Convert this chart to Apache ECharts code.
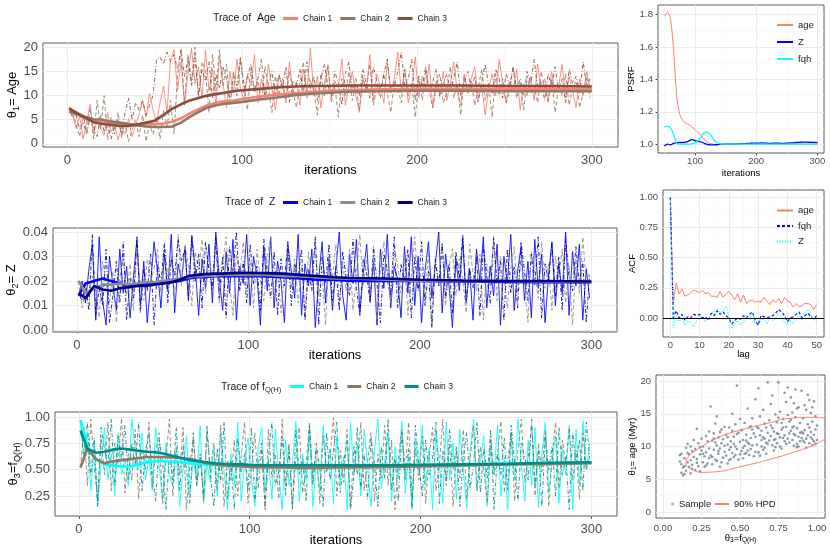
<!DOCTYPE html>
<html><head><meta charset="utf-8">
<script src="https://cdn.jsdelivr.net/npm/echarts@6/dist/echarts.min.js"></script>
<style>html,body{margin:0;padding:0;background:#fff}#c{width:830px;height:554px}</style>
</head><body><div id="c"></div>
<script>
// ---------------- DATA ----------------
const traceIters = Array.from({length:150}, (_, i) => 1 + 2*i);
const meanIters = [1,5,10,15,20,25,30,35,40,45,50,55,60,65,70,75,80,85,90,95,100,110,120,130,140,150,160,180,200,225,250,275,300];

const ageChain1 = [
7.5,6.0,3.2,5.8,1.0, 4.5,8.2,2.1,5.0,3.3, 1.8,6.5,2.5,4.0,0.8, 3.5,2.0,5.2,1.5,3.8,
6.0,9.0,5.5,10.5,7.0, 4.5,8.5,12.0,6.5,17.5, 19.5,11.0,17.0,8.5,14.5, 19.8,12.5,16.0,9.5,19.5,
11.0,15.5,8.0,18.0,12.5, 7.5,15.0,10.5,17.5,11.5, 9.0,14.5,12.0,18.5,8.5, 13.5,10.0,16.5,11.5,7.0,
14.0,12.0,9.0,17.0,10.5, 13.0,8.0,15.5,11.0,19.8, 10.0,14.0,7.5,12.5,16.0, 9.5,13.0,11.5,17.5,8.0,
12.0,15.0,10.0,6.5,13.5, 11.0,18.5,9.0,14.5,12.0, 8.5,17.0,11.0,13.5,19.0, 10.5,15.5,8.5,12.0,18.0,
9.5,14.0,11.5,16.5,7.5, 13.0,10.5,15.0,9.0,12.5, 17.0,11.0,8.0,14.5,10.5, 13.5,16.0,9.5,12.0,6.0,
11.5,14.5,10.0,17.5,12.5, 8.5,13.0,11.0,15.5,7.0, 12.5,10.0,14.0,9.0,16.5, 11.0,13.5,8.5,15.0,10.5,
12.0,16.5,9.5,14.0,11.0, 7.5,13.5,10.0,15.0,11.5];
const ageChain2 = [
6.5,7.0,4.0,1.5,6.0, 2.5,7.5,1.0,9.0,3.0, 10.0,0.8,5.5,2.0,6.5, 1.2,4.5,0.5,3.0,5.0,
1.5,6.0,0.5,4.0,2.0, 5.5,1.0,7.0,3.5,9.0, 2.0,14.0,19.5,8.0,18.5, 13.0,20.0,9.5,17.0,15.0,
6.5,18.5,11.0,19.5,12.0, 16.5,8.0,14.0,10.0,17.5, 12.5,7.0,15.5,10.5,13.0, 9.0,16.0,11.5,6.5,14.0,
10.0,13.5,8.5,15.0,11.0, 7.5,12.5,17.0,9.5,13.0, 11.0,6.0,14.5,10.0,16.5, 8.5,12.0,5.5,13.5,10.0,
15.0,9.0,12.5,7.0,14.0, 11.0,16.5,8.0,12.0,9.5, 14.5,10.5,6.5,13.0,11.5, 8.5,15.5,10.0,12.5,5.5,
13.5,9.0,15.0,11.0,7.5, 12.0,14.5,8.5,10.5,16.0, 9.5,12.5,6.0,14.0,10.5, 13.0,8.0,11.5,15.5,9.0,
12.0,5.5,14.5,10.0,13.5, 8.5,11.0,16.0,9.5,12.5, 7.0,14.0,10.5,12.0,8.5, 15.0,11.5,9.0,13.5,6.5,
12.0,10.0,14.5,8.0,11.5, 13.0,7.5,10.5,14.0,9.5];
const ageChain3 = [
7.0,5.5,6.0,3.0,4.5, 2.0,5.5,3.5,1.5,6.0, 2.5,4.0,1.0,3.5,5.0, 2.0,6.5,9.5,5.0,8.5,
7.0,9.0,6.0,8.0,10.0, 17.5,18.0,16.5,19.0,17.0, 18.5,15.5,19.5,14.0,17.5, 12.0,18.0,10.0,15.5,13.0,
17.0,9.5,14.5,11.5,16.0, 13.5,8.5,15.0,12.0,18.0, 10.5,14.0,16.5,11.0,13.5, 17.5,9.5,12.5,15.0,10.0,
14.5,11.5,16.0,8.5,13.0, 12.0,15.5,10.5,17.0,11.5, 14.0,9.0,13.5,16.5,12.0, 10.0,15.0,12.5,8.0,14.5,
17.0,11.0,13.5,10.0,15.5, 12.5,9.5,16.0,13.0,11.0, 14.5,17.5,10.5,12.0,15.0, 19.0,11.5,13.5,17.5,9.0,
14.0,12.0,16.0,10.5,13.0, 15.5,9.5,12.5,14.5,11.0, 13.5,17.0,10.0,12.5,15.0, 11.5,14.0,8.5,13.0,16.5,
12.0,10.5,15.5,13.5,9.5, 14.5,12.0,16.0,11.0,13.5, 10.0,15.0,12.5,17.5,11.5, 13.0,9.0,14.5,12.0,16.0,
11.0,13.5,8.5,15.5,12.5, 14.0,10.5,17.0,12.0,13.5];
const ageMean1 = [7.5,6.3,5.2,4.6,4.4,4.3,4.1,4.0,4.0,4.0,4.1,4.2,4.6,5.3,6.3,7.2,8.0,8.5,8.8,9.0,9.3,9.8,10.2,10.5,10.8,11.0,11.1,11.3,11.4,11.4,11.4,11.4,11.3];
const ageMean2 = [6.7,6.2,5.6,5.1,5.0,4.6,4.4,4.1,3.8,3.6,3.5,3.5,3.6,4.4,5.6,6.6,7.5,8.0,8.3,8.5,8.7,9.2,9.6,10.1,10.4,10.6,10.8,10.9,11.0,11.0,10.9,10.9,10.9];
const ageMean3 = [7.3,6.5,5.5,4.5,4.1,3.9,3.7,3.7,4.0,4.4,4.8,6.0,7.3,8.2,9.0,9.5,10.0,10.3,10.6,10.9,11.1,11.4,11.7,11.9,12.0,12.0,12.1,12.1,12.1,12.1,12.0,12.0,11.9];

const zChain1 = [
.014,.020,.011,.025,.035, .004,.038,.012,.002,.030, .018,.008,.033,.015,.026, .005,.022,.037,.010,.028,
.003,.019,.036,.024,.009, .031,.016,.039,.007,.027, .020,.034,.012,.038,.025, .006,.029,.017,.035,.011,
.040,.021,.008,.032,.015, .037,.004,.026,.019,.039, .010,.030,.022,.002,.034, .016,.038,.009,.028,.020,
.003,.035,.024,.013,.039, .006,.027,.018,.033,.001, .021,.036,.011,.029,.008, .025,.040,.014,.004,.031,
.019,.037,.007,.023,.035, .012,.028,.002,.033,.017, .039,.009,.026,.021,.005, .034,.015,.038,.010,.030,
.003,.024,.036,.013,.027, .040,.007,.031,.018,.001, .029,.016,.037,.011,.025, .004,.033,.020,.038,.009,
.026,.014,.035,.002,.030, .019,.039,.008,.024,.034, .012,.028,.005,.037,.017, .031,.003,.022,.036,.010,
.027,.015,.040,.006,.032, .018,.035,.004,.025,.013];
const zChain2 = [
.020,.009,.017,.013,.022, .016,.005,.028,.019,.011, .024,.003,.021,.031,.014, .027,.008,.034,.018,.012,
.029,.020,.025,.033,.015, .036,.022,.030,.013,.039, .018,.035,.026,.010,.032, .024,.037,.015,.029,.021,
.034,.011,.027,.038,.019, .006,.031,.023,.036,.016, .028,.009,.033,.020,.012, .030,.038,.014,.025,.007,
.022,.034,.017,.029,.011, .026,.005,.032,.019,.037, .014,.024,.002,.030,.021, .035,.010,.027,.016,.033,
.008,.023,.039,.018,.029, .013,.031,.004,.025,.036, .020,.011,.034,.027,.015, .030,.006,.022,.038,.017,
.025,.012,.032,.002,.028, .019,.036,.010,.026,.033, .014,.029,.021,.007,.035, .023,.016,.031,.004,.027,
.018,.037,.012,.030,.022, .009,.025,.034,.015,.028, .020,.003,.032,.024,.013, .036,.017,.027,.008,.030,
.021,.033,.011,.026,.002, .029,.015,.038,.019,.024];
const zChain3 = [
.015,.012,.019,.008,.039, .006,.017,.010,.033,.003, .014,.028,.011,.036,.004, .021,.013,.038,.007,.025,
.016,.031,.002,.027,.019, .035,.011,.029,.022,.037, .028,.033,.014,.039,.020, .031,.009,.036,.024,.017,
.038,.013,.030,.005,.034, .022,.040,.016,.028,.011, .035,.019,.026,.008,.037, .024,.013,.032,.006,.029,
.018,.036,.010,.027,.021, .033,.004,.025,.016,.038, .002,.030,.019,.035,.012, .026,.008,.032,.021,.014,
.037,.017,.006,.029,.023, .011,.034,.019,.003,.031, .025,.014,.038,.009,.027, .020,.033,.005,.030,.016,
.036,.010,.024,.001,.029, .018,.035,.013,.027,.007, .032,.021,.039,.012,.025, .017,.030,.006,.034,.022,
.011,.038,.019,.028,.004, .033,.015,.026,.009,.036, .024,.012,.031,.018,.038, .005,.027,.020,.035,.014,
.030,.008,.037,.022,.016, .034,.019,.028,.003,.023];
const zMean1 = [.014,.019,.020,.021,.020,.019,.018,.018,.0185,.019,.019,.0195,.020,.021,.0215,.0215,.022,.022,.022,.022,.022,.0218,.0215,.021,.0205,.0205,.020,.020,.020,.0198,.0196,.0195,.0195];
const zMean2 = [.020,.015,.017,.0185,.0185,.019,.0185,.019,.0195,.0195,.020,.0205,.021,.0215,.022,.022,.0222,.0225,.0225,.0225,.0225,.0225,.022,.022,.0215,.021,.021,.0205,.020,.020,.020,.0198,.0197];
const zMean3 = [.015,.013,.018,.0165,.016,.017,.0175,.018,.018,.0185,.019,.0195,.0205,.022,.0225,.0228,.023,.023,.0232,.0233,.0233,.0232,.023,.0225,.022,.0215,.0212,.021,.0205,.0202,.020,.020,.0198];

const fqhChain1 = [
.97,.60,.85,.30,.75, .15,.55,.90,.40,.65, .25,.80,.45,.60,.35, .98,.70,.50,.85,.40,
.62,.30,.90,.55,.20, .75,.45,.35,.68,.15, .50,.82,.28,.60,.40, .92,.18,.55,.38,.70,
.25,.85,.48,.12,.65, .35,.95,.20,.58,.80, .42,.15,.72,.90,.30, .60,.22,.88,.45,.12,
.78,.35,.55,.96,.20, .65,.40,.85,.15,.58, .30,.92,.48,.70,.18, .82,.38,.62,.12,.95,
.45,.75,.25,.88,.52, .15,.68,.98,.32,.58, .85,.20,.72,.42,.96, .28,.62,.15,.80,.48,
.92,.35,.70,.12,.85, .55,.18,.95,.40,.75, .22,.88,.50,.13,.68, .98,.30,.60,.82,.15,
.72,.45,.92,.25,.62, .12,.85,.40,.98,.55, .20,.78,.35,.90,.14, .65,.95,.28,.58,.82,
.18,.70,.45,.92,.12, .88,.35,.96,.50,.75];
const fqhChain2 = [
.52,.90,.35,.98,.55, .20,.80,.45,.95,.30, .75,.55,.99,.28,.65, .40,.88,.22,.70,.50,
.95,.32,.68,.85,.18, .60,.98,.25,.72,.45, .90,.12,.55,.80,.35, .65,.20,.85,.48,.75,
.30,.92,.15,.58,.40, .78,.25,.62,.95,.18, .50,.85,.32,.70,.12, .88,.42,.65,.22,.98,
.35,.75,.15,.60,.90, .28,.55,.95,.40,.70, .18,.82,.48,.62,.99, .25,.68,.38,.88,.15,
.72,.45,.95,.30,.58, .85,.20,.65,.42,.92, .35,.78,.12,.60,.88, .48,.95,.25,.70,.40,
.82,.18,.62,.90,.30, .55,.98,.35,.75,.15, .68,.42,.88,.22,.60, .92,.30,.72,.50,.18,
.80,.45,.65,.96,.28, .58,.85,.20,.70,.98, .38,.62,.92,.25,.75, .48,.88,.15,.65,.95,
.32,.78,.55,.90,.40, .68,.22,.85,.50,.62];
const fqhChain3 = [
.87,.65,.95,.45,.80, .15,.90,.70,.55,.98, .35,.85,.60,.92,.40, .75,.55,.95,.30,.68,
.85,.45,.20,.78,.58, .12,.65,.40,.90,.30, .72,.50,.18,.85,.35, .62,.25,.92,.45,.15,
.70,.38,.95,.22,.58, .12,.80,.48,.65,.30, .90,.20,.55,.75,.15, .62,.95,.35,.48,.82,
.25,.70,.12,.88,.45, .60,.20,.92,.35,.75, .50,.15,.85,.40,.68, .95,.28,.58,.78,.12,
.45,.90,.32,.65,.22, .80,.55,.15,.72,.42, .98,.30,.62,.20,.85, .40,.70,.12,.92,.55,
.25,.78,.45,.60,.95, .18,.68,.38,.88,.50, .72,.15,.62,.85,.32, .55,.95,.28,.70,.42,
.88,.12,.65,.45,.80, .30,.92,.58,.20,.75, .62,.40,.98,.35,.68, .15,.82,.50,.72,.25,
.90,.45,.62,.12,.85, .55,.78,.30,.95,.60];
const fqhMean1 = [.97,.72,.60,.55,.54,.53,.53,.55,.57,.58,.58,.575,.57,.56,.555,.55,.545,.54,.54,.54,.54,.54,.535,.53,.53,.53,.53,.535,.54,.55,.555,.56,.565];
const fqhMean2 = [.52,.70,.60,.56,.58,.59,.60,.61,.62,.62,.62,.615,.61,.60,.58,.56,.55,.54,.535,.53,.525,.52,.52,.515,.515,.52,.52,.525,.53,.54,.55,.555,.56];
const fqhMean3 = [.87,.70,.66,.67,.69,.70,.69,.68,.67,.665,.65,.63,.61,.59,.58,.57,.56,.555,.55,.55,.545,.54,.54,.54,.54,.54,.54,.54,.545,.55,.555,.565,.57];

const psrfIters = Array.from({length:51}, (_, i) => 50 + 5*i);
const psrfAge = [1.79,1.815,1.77,1.58,1.30,1.185,1.145,1.13,1.12,1.105,1.09,1.07,1.055,1.03,1.012,1.004,1.0,0.999,0.999,0.999,1.0,
1.001,1.001,1.001,1.001,1.001,1.001,1.001,1.001,1.001,1.001,1.001,1.001,1.001,1.001,1.001,1.001,1.001,1.001,1.001,1.001,1.001,1.001,1.001,1.001,1.001,1.001,1.001,1.001,1.001,1.001];
const psrfZ = [0.988,1.0,0.995,1.005,1.008,1.01,1.01,1.012,1.02,1.028,1.022,1.017,1.013,1.005,0.998,0.995,0.995,0.996,0.998,0.999,1.0,
1.0,1.0,1.0,1.001,1.002,1.003,1.004,1.005,1.006,1.006,1.006,1.007,1.006,1.005,1.005,1.006,1.006,1.005,1.005,1.006,
1.007,1.008,1.01,1.011,1.012,1.012,1.012,1.011,1.011,1.01];
const psrfFqh = [1.107,1.11,1.1,1.06,1.005,1.0,1.0,1.0,1.0,1.002,1.006,1.02,1.045,1.07,1.075,1.06,1.03,1.012,1.003,1.0,1.0,
1.0,1.0,1.0,1.0,1.0,1.0,1.0,1.0,1.0,1.0,1.0,1.0,1.0,1.0,1.0,1.0,1.0,1.0,1.0,1.0,1.0,1.0,1.0,1.0,1.0,1.0,1.0,1.0,1.0,1.0];

const acfLags = Array.from({length:51}, (_, i) => i);
const acfAge = [1.0,0.12,0.29,0.2,0.24,0.18,0.19,0.21,0.23,0.22,0.21,0.23,0.2,0.21,0.18,0.18,0.17,0.22,0.17,0.2,0.22,0.19,0.15,0.2,0.13,0.19,0.12,0.14,0.15,0.13,0.14,0.13,0.17,0.14,0.11,0.15,0.13,0.16,0.12,0.17,0.14,0.13,0.09,0.12,0.09,0.1,0.12,0.12,0.11,0.07,0.11];
const acfFqh = [1.0,0.0,0.06,0.0,0.03,-0.02,0.01,0.0,0.03,0.02,0.03,0.0,0.01,-0.02,0.04,0.02,0.06,0.03,0.05,0.02,0.0,-0.05,-0.02,0.0,-0.01,0.02,0.0,0.03,0.05,-0.02,-0.06,0.02,0.01,0.0,0.01,0.02,0.04,0.07,0.05,0.02,-0.03,0.0,0.01,0.03,0.05,0.0,0.02,0.04,0.01,-0.01,0.02];
const acfZ = [1.0,-0.08,0.02,-0.03,0.0,-0.06,-0.02,-0.04,-0.07,-0.02,0.02,0.0,-0.03,-0.01,0.03,0.05,0.08,0.04,0.06,0.1,0.02,-0.09,-0.05,-0.02,-0.06,-0.03,0.02,-0.01,0.04,-0.04,-0.02,-0.03,0.0,-0.05,0.01,-0.02,0.0,0.04,0.01,-0.04,-0.06,-0.02,-0.05,-0.01,0.03,-0.02,0.05,0.07,0.03,-0.01,-0.03];

// scatter sample: [fqh, age]
const samplePoints = [
[.11,8.7],[.12,6.0],[.12,7.3],[.13,5.6],[.13,6.8],[.14,8.2],[.14,7.0],[.15,6.3],[.15,9.8],[.16,7.6],[.16,10.4],[.17,6.9],[.17,8.8],[.18,5.9],[.18,7.9],[.19,9.3],[.19,6.6],[.20,8.4],[.20,11.0],[.12,8.9],[.14,5.8],[.16,9.0],[.18,10.0],[.11,7.7],[.19,7.2],
[.21,6.4],[.21,9.6],[.22,12.7],[.22,8.1],[.23,7.0],[.23,10.5],[.24,8.8],[.24,6.2],[.25,9.4],[.25,11.2],[.26,7.6],[.26,10.0],[.27,8.5],[.27,6.9],[.28,11.6],[.28,9.1],[.29,7.4],[.29,10.8],[.30,8.2],[.30,12.3],[.22,7.5],[.24,9.9],[.26,8.9],[.28,7.1],[.30,9.7],
[.31,16.1],[.31,8.6],[.32,10.9],[.32,7.3],[.33,9.5],[.33,12.0],[.34,8.0],[.34,13.5],[.35,10.2],[.35,7.8],[.36,11.4],[.36,8.9],[.37,9.7],[.37,6.9],[.38,12.6],[.38,10.5],[.39,8.3],[.39,11.1],[.40,9.2],[.40,13.0],[.32,8.4],[.34,10.6],[.36,9.3],[.38,7.6],[.40,10.1],[.35,14.6],[.33,11.2],[.37,12.2],
[.41,8.6],[.41,11.8],[.42,10.3],[.42,7.4],[.43,9.5],[.43,12.9],[.44,8.1],[.44,10.8],[.45,15.0],[.45,9.0],[.46,11.5],[.46,8.4],[.47,13.4],[.47,10.0],[.48,19.3],[.48,9.6],[.49,12.1],[.49,8.0],[.50,10.7],[.50,14.2],[.42,11.4],[.44,9.9],[.46,10.4],[.48,11.9],[.50,8.8],[.43,7.9],[.47,8.7],[.45,12.4],
[.51,9.3],[.51,12.5],[.52,11.0],[.52,8.2],[.53,13.6],[.53,10.1],[.54,9.0],[.54,11.8],[.55,15.8],[.55,10.6],[.56,8.7],[.56,12.9],[.57,11.3],[.57,9.6],[.58,14.3],[.58,10.2],[.59,12.0],[.59,8.5],[.60,11.5],[.60,17.2],[.52,9.8],[.54,10.9],[.56,10.4],[.58,12.6],[.60,9.2],[.53,8.9],[.57,13.1],[.55,9.4],
[.61,10.3],[.61,13.0],[.62,18.9],[.62,9.1],[.63,11.7],[.63,14.6],[.64,10.0],[.64,12.4],[.65,9.5],[.65,15.6],[.66,11.2],[.66,13.5],[.67,10.6],[.67,8.9],[.68,19.8],[.68,12.1],[.69,10.9],[.69,14.0],[.70,11.6],[.70,16.5],[.62,12.8],[.64,11.0],[.66,9.8],[.68,10.4],[.70,13.2],[.63,8.6],[.67,12.9],[.65,11.4],
[.71,10.2],[.71,17.8],[.72,12.3],[.72,9.4],[.73,14.9],[.73,11.1],[.74,10.5],[.74,13.7],[.75,19.8],[.75,11.9],[.76,10.0],[.76,15.3],[.77,12.6],[.77,9.7],[.78,14.2],[.78,11.3],[.79,18.2],[.79,10.8],[.80,13.0],[.80,16.8],[.72,11.0],[.74,12.0],[.76,11.4],[.78,12.9],[.80,10.4],[.73,9.9],[.77,13.6],[.79,11.7],[.75,14.4],[.71,12.8],
[.81,19.0],[.81,11.2],[.82,13.8],[.82,10.6],[.83,12.4],[.83,17.5],[.84,11.0],[.84,15.2],[.85,10.1],[.85,13.1],[.86,18.7],[.86,11.7],[.87,12.8],[.87,10.4],[.88,16.0],[.88,11.5],[.89,13.6],[.89,10.8],[.90,12.2],[.90,18.5],[.82,12.0],[.84,12.9],[.86,14.5],[.88,10.0],[.90,11.3],[.83,14.1],[.85,11.9],[.87,15.8],[.89,12.1],[.81,14.8],[.85,16.6],[.87,9.9],
[.91,10.9],[.91,14.3],[.92,12.5],[.92,16.3],[.93,11.2],[.93,9.8],[.94,13.4],[.94,17.9],[.95,10.5],[.95,12.9],[.96,15.1],[.96,11.4],[.97,13.8],[.97,10.2],[.98,16.9],[.98,11.8],[.99,12.6],[.99,14.6],[1.0,11.0],[1.0,13.2],[.92,10.6],[.94,11.7],[.96,12.2],[.98,10.8],[.93,15.6],[.95,17.1],[.97,11.1],[.99,10.4],[.91,12.0],[.97,16.0]
];
// 90% HPD contour: [fqh, age]
const hpdContour = [[.24,6.05],[.175,6.65],[.15,7.4],[.165,8.4],[.219,9.47],[.349,11.25],[.5,12.5],[.673,13.5],[.825,14.3],[.955,14.45],[1.056,14.3],[1.12,13.6],[1.13,12.5],[1.09,11.6],[1.056,11.15],[.976,10.2],[.846,9.1],[.673,7.9],[.5,6.9],[.349,6.15],[.24,6.05]];

// tick values
const iterTicks = [0,100,200,300], iterMinor = [50,150,250];
const ageTicks = [0,5,10,15,20], ageMinor = [2.5,7.5,12.5,17.5];
const zTicks = [0,.01,.02,.03,.04], zMinor = [.005,.015,.025,.035];
const fqhTicks = [.25,.5,.75,1], fqhMinor = [.125,.375,.625,.875];
const psrfXTicks = [100,200,300], psrfXMinor = [50,150,250];
const psrfYTicks = [1,1.2,1.4,1.6,1.8], psrfYMinor = [1.1,1.3,1.5,1.7];
const lagTicks = [0,10,20,30,40,50], lagMinor = [5,15,25,35,45];
const acfTicks = [0,.25,.5,.75,1], acfMinor = [-.125,.125,.375,.625,.875];
const unitTicks = [0,.25,.5,.75,1], unitMinor = [.125,.375,.625,.875];

// ---------------- STYLE / BUILD ----------------
const FONT = '"Liberation Sans", Arial, Helvetica, sans-serif';
const TICK_COL = '#4D4D4D', MAJOR = '#EBEBEB', MINOR = '#F5F5F5', BORDER = '#5a5a5a';
const SALMON = '#FA8072', TAUPE = '#8B7B65', BROWN = '#8B4C39';
const BLUE = '#0000FF', GREY = '#8C8C8C', NAVY = '#00008B';
const CYAN = '#00FFFF', TEAL = '#008B8B';
const DASH = [4, 2.5], DOTDASH = [1, 2, 4, 2];

const grids = [
  {left:43, top:43, width:575, height:104},
  {left:53, top:228, width:564, height:104},
  {left:55, top:412, width:562, height:104},
  {left:658, top:5, width:166, height:148},
  {left:663, top:190, width:161, height:147},
  {left:656, top:375, width:169, height:143}
].map(g => Object.assign({show:true, borderColor:BORDER, borderWidth:1, backgroundColor:'#fff', containLabel:false, outerBoundsMode:'none'}, g));

function nameStyle(fs){
  return {fontSize:fs, color:'#000', fontFamily:FONT,
    rich:{ m:{fontSize:fs, fontFamily:FONT, color:'#000', lineHeight:Math.round(fs*1.3)},
           s:{fontSize:fs*0.7, fontFamily:FONT, color:'#000', lineHeight:Math.round(fs*0.6), verticalAlign:'bottom'} }};
}
function axis(k, min, max, ticks, fmt, fs, margin, name, nameGap){
  return {type:'value', gridIndex:k, min:min, max:max,
    splitLine:{show:false}, minorSplitLine:{show:false}, axisLine:{show:false},
    axisTick:{show:true, customValues:ticks, length:fs > 10 ? 3 : 2.5, inside:false, lineStyle:{color:'#333', width:0.8}},
    axisLabel:{show:true, customValues:ticks, formatter:fmt, fontSize:fs, color:TICK_COL, margin:margin, fontFamily:FONT, hideOverlap:false},
    name:name, nameLocation:'middle', nameGap:nameGap, nameMoveOverlap:false, nameTextStyle:nameStyle(fs), silent:true};
}
const f0 = v => String(v), f1 = v => v.toFixed(1), f2 = v => v.toFixed(2);

const xAxis = [
  axis(0, -13.95, 314.95, iterTicks, f0, 13, 7, 'iterations', 17),
  axis(1, -13.95, 314.95, iterTicks, f0, 13, 7, 'iterations', 17),
  axis(2, -13.95, 314.95, iterTicks, f0, 13, 7, 'iterations', 18),
  axis(3, 39.5, 310.8, psrfXTicks, f0, 9.5, 3.5, 'iterations', 15),
  axis(4, -2.5, 52.5, lagTicks, f0, 9.5, 3, 'lag', 12),
  axis(5, -0.045, 1.052, unitTicks, f2, 9.5, 5, '{m|θ}{s|3}{m|=f}{s|Q(H)}', 14)
];
const yAxis = [
  axis(0, -0.65, 20.9, ageTicks, f0, 13, 5, '{m|θ}{s|1}{m|= Age}', 22.5),
  axis(1, -0.0008, 0.0416, zTicks, f2, 13, 5, '{m|θ}{s|2}{m|= Z}', 33.5),
  axis(2, 0.06, 1.047, fqhTicks, f2, 13, 5, '{m|θ}{s|3}{m|=f}{s|Q(H)}', 33.5),
  axis(3, 0.945, 1.86, psrfYTicks, f1, 9.5, 5, 'PSRF', 21.5),
  axis(4, -0.157, 1.058, acfTicks, f2, 9.5, 5, 'ACF', 25.5),
  axis(5, -0.92, 20.92, ageTicks, f0, 9.5, 5, '{m|θ}{s|1}{m|= age (Myr)}', 18)
];

function gridLineSeries(k, xMaj, xMin, yMaj, yMin){
  const d = [];
  const minorStyle = {color:MINOR, width:0.6, type:'solid'};
  const majorStyle = {color:MAJOR, width:1, type:'solid'};
  xMin.forEach(v => d.push({xAxis:v, lineStyle:minorStyle}));
  yMin.forEach(v => d.push({yAxis:v, lineStyle:minorStyle}));
  xMaj.forEach(v => d.push({xAxis:v, lineStyle:majorStyle}));
  yMaj.forEach(v => d.push({yAxis:v, lineStyle:majorStyle}));
  return {type:'line', name:'grid'+k, xAxisIndex:k, yAxisIndex:k, data:[], silent:true, z:1,
    markLine:{silent:true, symbol:['none','none'], z:1, animation:false, label:{show:false}, emphasis:{disabled:true}, data:d}};
}
const pairs = (xs, ys) => ys.map((v, i) => [xs[i], v]);
function chain(k, name, vals, color, type){
  return {type:'line', name:name, xAxisIndex:k, yAxisIndex:k, data:pairs(traceIters, vals), symbol:'none', showSymbol:false,
    lineStyle:{color:color, width:0.85, type:type}, itemStyle:{color:color}, z:2, silent:true, emphasis:{disabled:true}};
}
function mean(k, name, vals, color){
  return {type:'line', name:name, xAxisIndex:k, yAxisIndex:k, data:pairs(meanIters, vals), symbol:'none', showSymbol:false,
    lineStyle:{color:color, width:2.6}, itemStyle:{color:color}, z:3, silent:true, emphasis:{disabled:true}};
}
function simpleLine(k, name, xs, ys, color, width, type, smooth){
  return {type:'line', name:name, xAxisIndex:k, yAxisIndex:k, data:pairs(xs, ys), symbol:'none', showSymbol:false, smooth:smooth || false,
    lineStyle:{color:color, width:width, type:type || 'solid'}, itemStyle:{color:color}, z:3, silent:true, emphasis:{disabled:true}};
}

const series = [
  gridLineSeries(0, iterTicks, iterMinor, ageTicks, ageMinor),
  gridLineSeries(1, iterTicks, iterMinor, zTicks, zMinor),
  gridLineSeries(2, iterTicks, iterMinor, fqhTicks, fqhMinor),
  gridLineSeries(3, psrfXTicks, psrfXMinor, psrfYTicks, psrfYMinor),
  gridLineSeries(4, lagTicks, lagMinor, acfTicks, acfMinor),
  gridLineSeries(5, unitTicks, unitMinor, ageTicks, ageMinor),

  chain(0, 'age|t1', ageChain1, SALMON, 'solid'),
  chain(0, 'age|t2', ageChain2, TAUPE, DASH),
  chain(0, 'age|t3', ageChain3, BROWN, DOTDASH),
  mean(0, 'age|Chain 1', ageMean1, SALMON),
  mean(0, 'age|Chain 2', ageMean2, TAUPE),
  mean(0, 'age|Chain 3', ageMean3, BROWN),

  chain(1, 'z|t1', zChain1, BLUE, 'solid'),
  chain(1, 'z|t2', zChain2, GREY, DASH),
  chain(1, 'z|t3', zChain3, NAVY, DOTDASH),
  mean(1, 'z|Chain 1', zMean1, BLUE),
  mean(1, 'z|Chain 2', zMean2, GREY),
  mean(1, 'z|Chain 3', zMean3, NAVY),

  chain(2, 'f|t1', fqhChain1, CYAN, 'solid'),
  chain(2, 'f|t2', fqhChain2, TAUPE, DASH),
  chain(2, 'f|t3', fqhChain3, TEAL, DOTDASH),
  mean(2, 'f|Chain 1', fqhMean1, CYAN),
  mean(2, 'f|Chain 2', fqhMean2, TAUPE),
  mean(2, 'f|Chain 3', fqhMean3, TEAL),

  simpleLine(3, 'psrf|age', psrfIters, psrfAge, SALMON, 1, 'solid', 0.3),
  simpleLine(3, 'psrf|Z', psrfIters, psrfZ, BLUE, 1.3, 'solid', 0.3),
  simpleLine(3, 'psrf|fqh', psrfIters, psrfFqh, CYAN, 1.3, 'solid', 0.3),

  simpleLine(4, 'acf|age', acfLags, acfAge, SALMON, 1, 'solid'),
  simpleLine(4, 'acf|fqh', acfLags, acfFqh, BLUE, 1.1, [3, 2]),
  simpleLine(4, 'acf|Z', acfLags, acfZ, CYAN, 1.1, [1, 1.6]),
  {type:'line', name:'acfzero', xAxisIndex:4, yAxisIndex:4, data:[], silent:true, z:5,
    markLine:{silent:true, symbol:['none','none'], z:5, animation:false, label:{show:false}, emphasis:{disabled:true},
      data:[{yAxis:0, lineStyle:{color:'#000', width:1, type:'solid'}}]}},

  {type:'scatter', name:'Sample', xAxisIndex:5, yAxisIndex:5, data:samplePoints, symbol:'circle', symbolSize:2.6,
    itemStyle:{color:'#6F7F90', opacity:0.8}, z:3, silent:true, emphasis:{disabled:true}},
  {type:'line', name:'90% HPD', xAxisIndex:5, yAxisIndex:5, data:hpdContour, symbol:'none', showSymbol:false, smooth:0.5,
    lineStyle:{color:SALMON, width:1}, itemStyle:{color:SALMON}, z:4, silent:true, emphasis:{disabled:true}}
];

const legTxt = fs => ({fontSize:fs, color:'#1a1a1a', fontFamily:FONT});
const splitName = n => n.split('|')[1];
const traceLegend = (left, top, w, gap, names) => ({left:left, top:top, orient:'horizontal', itemWidth:w, itemHeight:3, itemGap:gap,
  icon:'rect', padding:0, selectedMode:false, textStyle:legTxt(8.5), itemStyle:{borderWidth:0}, data:names, formatter:splitName});
const lineLegend = (left, top, gap, names) => ({left:left, top:top, orient:'vertical', itemWidth:16, itemHeight:10, itemGap:gap,
  padding:0, selectedMode:false, textStyle:legTxt(9.5), itemStyle:{opacity:0}, data:names, formatter:splitName});

const legend = [
  traceLegend(283, 14, 15, 8, ['age|Chain 1','age|Chain 2','age|Chain 3']),
  traceLegend(283, 198, 15, 8, ['z|Chain 1','z|Chain 2','z|Chain 3']),
  traceLegend(290, 382, 14, 9, ['f|Chain 1','f|Chain 2','f|Chain 3']),
  lineLegend(776, 20, 7, ['psrf|age','psrf|Z','psrf|fqh']),
  lineLegend(776, 205.5, 5.5, ['acf|age','acf|fqh','acf|Z']),
  {left:671, top:499, itemWidth:3, itemHeight:3, padding:0, selectedMode:false, textStyle:legTxt(9.5), itemStyle:{opacity:0.6}, data:['Sample']},
  {left:714, top:499, itemWidth:14, itemHeight:10, padding:0, selectedMode:false, textStyle:legTxt(9.5), itemStyle:{opacity:0}, data:['90% HPD']}
];

const titleStyle = {fontSize:10.5, fontWeight:'normal', color:'#1a1a1a', fontFamily:FONT};
const title = [
  {text:'Trace of  Age', left:213, top:13, padding:0, textStyle:titleStyle},
  {text:'Trace of  Z', left:225, top:197, padding:0, textStyle:titleStyle},
  {text:'{m|Trace of f}{s|Q(H)}', left:221, top:380, padding:0, textStyle:Object.assign({}, titleStyle, {
    rich:{m:{fontSize:10.5, color:'#1a1a1a', fontFamily:FONT, lineHeight:14},
          s:{fontSize:7.5, color:'#1a1a1a', fontFamily:FONT, lineHeight:6, verticalAlign:'bottom'}}})}
];

const chart = echarts.init(document.getElementById('c'), null, {renderer:'canvas'});
chart.setOption({
  backgroundColor:'#fff', animation:false, textStyle:{fontFamily:FONT},
  title:title, legend:legend, grid:grids, xAxis:xAxis, yAxis:yAxis, series:series, tooltip:{show:false}
});
</script></body></html>
